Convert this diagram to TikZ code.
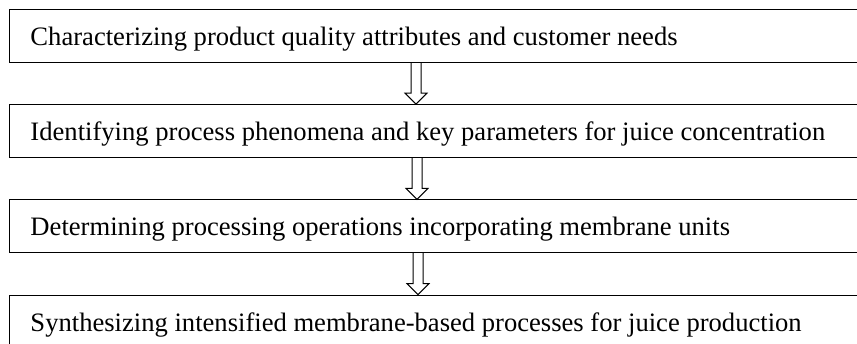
\documentclass[tikz,border=0pt]{standalone}
\usepackage{fontspec}
\setmainfont{Liberation Serif}
\usetikzlibrary{calc, positioning}

\begin{document}
\begin{tikzpicture}[x=1pt, y=1pt,
    stage/.style={draw, line width=1pt, anchor=north west,
        text width=858pt, align=flush left, inner xsep=21pt, inner ysep=0pt,
        minimum height=52.6pt, text height=22pt, text depth=2.6pt,
        font=\fontsize{26.6pt}{32pt}\selectfont},
    hollow/.style={draw, line width=1pt, line join=miter}]
    \clip (0,0) rectangle (857,343);

    % the four stages, one under the other
    \node[stage] (s1) at (9,334) {Characterizing product quality attributes and customer needs};
    \node[stage, below=41.6pt of s1] (s2) {Identifying process phenomena and key parameters for juice concentration};
    \node[stage, below=41.6pt of s2] (s3) {Determining processing operations incorporating membrane units};
    \node[stage, below=41.6pt of s3] (s4) {Synthesizing intensified membrane-based processes for juice production};

    % hollow arrows between stages
    \foreach \a/\b/\ax in {s1/s2/416, s2/s3/417, s3/s4/418}
        \draw[hollow] let \p1=(\a.south), \p2=(\b.north) in
            (\ax pt-5pt,\y1) -- (\ax pt-5pt,\y2+11pt) -- (\ax pt-11pt,\y2+11pt) -- (\ax pt,\y2)
            -- (\ax pt+11pt,\y2+11pt) -- (\ax pt+5pt,\y2+11pt) -- (\ax pt+5pt,\y1);
\end{tikzpicture}
\end{document}
